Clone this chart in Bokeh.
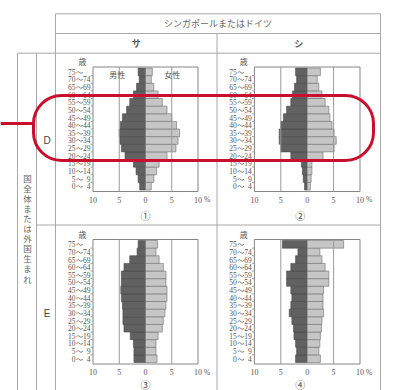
from bokeh.plotting import figure
from bokeh.models import Range1d, BoxAnnotation
from bokeh.embed import file_html
from bokeh.resources import INLINE
from bokeh.core.properties import value

# ---------------- data ----------------
age_lower = ["0", "5", "10", "15", "20", "25", "30", "35", "40", "45", "50", "55", "60", "65", "70", "75"]
age_upper = ["4", "9", "14", "19", "24", "29", "34", "39", "44", "49", "54", "59", "64", "69", "74", ""]

# share of population (%), from 0~4 up to 75~
sa_D_male = [1.1, 1.4, 1.8, 2.3, 3.9, 4.6, 4.9, 5.0, 4.8, 4.4, 3.6, 3.0, 2.3, 1.7, 1.2, 1.4]
sa_D_female = [1.1, 1.6, 2.1, 2.6, 4.1, 5.8, 6.2, 6.5, 5.9, 5.0, 4.1, 3.2, 2.4, 1.6, 1.1, 1.3]
shi_D_male = [0.5, 0.75, 0.9, 1.1, 3.1, 5.0, 5.3, 5.3, 5.0, 4.5, 3.9, 3.1, 2.8, 2.4, 2.0, 2.2]
shi_D_female = [0.6, 0.75, 0.9, 0.9, 3.0, 5.1, 5.5, 5.1, 4.7, 4.3, 4.1, 3.4, 2.8, 2.2, 1.9, 2.5]
sa_E_male = [2.2, 2.2, 2.3, 2.9, 4.1, 4.3, 4.3, 4.4, 4.6, 4.7, 4.6, 4.6, 4.1, 3.0, 1.6, 1.4]
sa_E_female = [2.2, 2.0, 2.0, 2.4, 3.2, 3.4, 3.7, 3.9, 4.1, 4.1, 3.9, 3.9, 3.4, 2.6, 2.0, 2.3]
shi_E_male = [2.2, 2.0, 2.2, 2.5, 2.6, 2.9, 3.4, 3.1, 2.9, 3.1, 3.9, 3.9, 3.1, 2.2, 1.75, 4.7]
shi_E_female = [2.5, 2.2, 2.4, 2.5, 2.7, 2.8, 3.1, 3.0, 3.0, 3.1, 4.1, 4.1, 3.4, 2.8, 2.4, 6.9]

tick_vals = [-10, -5, 0, 5, 10]
tick_labels = ["10", "5", "0", "5", "10"]

title_text = "シンガポールまたはドイツ"
col_labels = ["サ", "シ"]
row_labels = ["D", "E"]
side_text = "国全体または外国生まれ"
panel_numbers = ["①", "②", "③", "④"]

# ---------------- layout (reference pixel space) ----------------
X0, X1, Y0, Y1 = 0, 412, 0, 390
JP = value("Noto Sans CJK JP")
SERIF = value("Liberation Serif")
TXT = "#555555"
LINE = "#a8a8a8"
RED = "#c8102e"

p = figure(width=X1 - X0, height=Y1 - Y0,
           x_range=Range1d(X0, X1), y_range=Range1d(Y1, Y0),
           x_axis_type=None, y_axis_type=None,
           output_backend="svg", toolbar_location=None,
           min_border=0, outline_line_color=None)
p.background_fill_color = "white"
p.border_fill_color = "white"


def xr(center_px, unit_px):
    return Range1d(start=(X0 - center_px) / unit_px, end=(X1 - center_px) / unit_px)


def yr(base_px, row_px):
    return Range1d(start=(base_px - Y1) / row_px, end=(base_px - Y0) / row_px)


ROW = 7.625
p.extra_x_ranges = {"xL": xr(145.0, 5.25), "xR": xr(306.7, 5.28)}
p.extra_y_ranges = {"yT": yr(189.5, ROW), "yB": yr(362.0, ROW)}

# ---------------- table grid ----------------
hx0 = [55, 55, 17, 36]
hx1 = [380, 380, 380, 380]
hy = [13.3, 33.0, 52.7, 224.5]
p.segment(x0=hx0, y0=hy, x1=hx1, y1=hy, line_color=LINE, line_width=1)
vx = [17, 36, 55, 216.5, 380]
vy0 = [52.7, 52.7, 13.3, 33.0, 13.3]
p.segment(x0=vx, y0=vy0, x1=vx, y1=[400] * len(vx), line_color=LINE, line_width=1)

p.text(x=[217.5], y=[23.3], text=[title_text], text_font=JP, text_font_size="9px",
       text_color="#666666", text_align="center", text_baseline="middle")
p.text(x=[135.8, 298.2], y=[42.8, 42.8], text=col_labels, text_font=JP, text_font_size="9px",
       text_font_style="bold", text_color="#555555", text_align="center", text_baseline="middle")
p.text(x=[46.5, 46.5], y=[140, 313], text=row_labels, text_font=value("Liberation Sans"),
       text_font_size="10px", text_color="#444444", text_align="center", text_baseline="middle")
chars = list(side_text)
p.text(x=[27] * len(chars), y=[177 + 10.1 * i for i in range(len(chars))], text=chars,
       text_font=JP, text_font_size="8.5px", text_color="#666666",
       text_align="center", text_baseline="middle")

# ---------------- pyramids ----------------
panels = [
    (sa_D_male, sa_D_female, "xL", "yT", panel_numbers[0], True, -3.35),
    (shi_D_male, shi_D_female, "xR", "yT", panel_numbers[1], False, -3.35),
    (sa_E_male, sa_E_female, "xL", "yB", panel_numbers[2], False, -2.9),
    (shi_E_male, shi_E_female, "xR", "yB", panel_numbers[3], False, -2.9),
]
n = len(age_lower)
for male, female, xn, yn, num, show_sex, num_y in panels:
    kw = dict(x_range_name=xn, y_range_name=yn)
    ys = [k + 0.5 for k in range(n)]
    p.hbar(y=ys, left=[-v for v in male], right=0, height=1, fill_color="#616161",
           line_color="#474747", line_width=0.6, **kw)
    p.hbar(y=ys, left=0, right=female, height=1, fill_color="#c6c6c6",
           line_color="#6f6f6f", line_width=0.6, **kw)
    # frame and grid lines
    p.quad(left=[-10], right=[10], bottom=[-0.2], top=[n + 0.13], fill_color=None,
           line_color="#858585", line_width=1, **kw)
    p.segment(x0=[-5, 5], y0=[-0.2, -0.2], x1=[-5, 5], y1=[n + 0.13] * 2,
              line_color="#9a9a9a", line_width=1, **kw)
    p.segment(x0=[-10.45] * (n - 1), y0=list(range(1, n)), x1=[-10] * (n - 1),
              y1=list(range(1, n)), line_color="#8a8a8a", line_width=0.8, **kw)
    # age labels
    p.text(x=[-10.5] * n, y=ys, text=age_upper, text_font=SERIF, text_font_size="7.5px",
           text_color=TXT, text_align="right", text_baseline="middle", **kw)
    p.text(x=[-10.5] * n, y=ys, text=["～"] * n, x_offset=-11, text_font=JP,
           text_font_size="7px", text_color=TXT, text_align="center",
           text_baseline="middle", **kw)
    p.text(x=[-10.5] * n, y=ys, text=age_lower, x_offset=-15, text_font=SERIF,
           text_font_size="7.5px", text_color=TXT, text_align="right",
           text_baseline="middle", **kw)
    p.text(x=[-12], y=[n + 0.85], text=["歳"], text_font=JP, text_font_size="8px",
           text_color=TXT, text_align="center", text_baseline="middle", **kw)
    # x tick labels
    p.text(x=tick_vals, y=[-1.25] * len(tick_vals), text=tick_labels, text_font=SERIF,
           text_font_size="8px", text_color=TXT, text_align="center",
           text_baseline="middle", **kw)
    p.text(x=[10], y=[-1.25], text=["%"], x_offset=9, text_font=SERIF,
           text_font_size="7.5px", text_color=TXT, text_align="center",
           text_baseline="middle", **kw)
    p.text(x=[0 if xn == "xL" else -1.3], y=[num_y], text=[num], text_font=JP,
           text_font_size="10px", text_color="#444444", text_align="center",
           text_baseline="middle", **kw)
    if show_sex:
        p.text(x=[-5.4, 5.1], y=[n - 0.8, n - 0.8], text=["男性", "女性"], text_font=JP,
               text_font_size="8px", text_color=TXT, text_align="center",
               text_baseline="middle", **kw)

# ---------------- red highlight ----------------
p.segment(x0=[0], y0=[123], x1=[33], y1=[123], line_color=RED, line_width=3)
p.add_layout(BoxAnnotation(left=33, right=373, top=95, bottom=160, fill_alpha=0,
                           fill_color=None, line_color=RED, line_width=3, line_alpha=1,
                           border_radius=28))

open("out.html", "w").write(file_html(p, INLINE))
